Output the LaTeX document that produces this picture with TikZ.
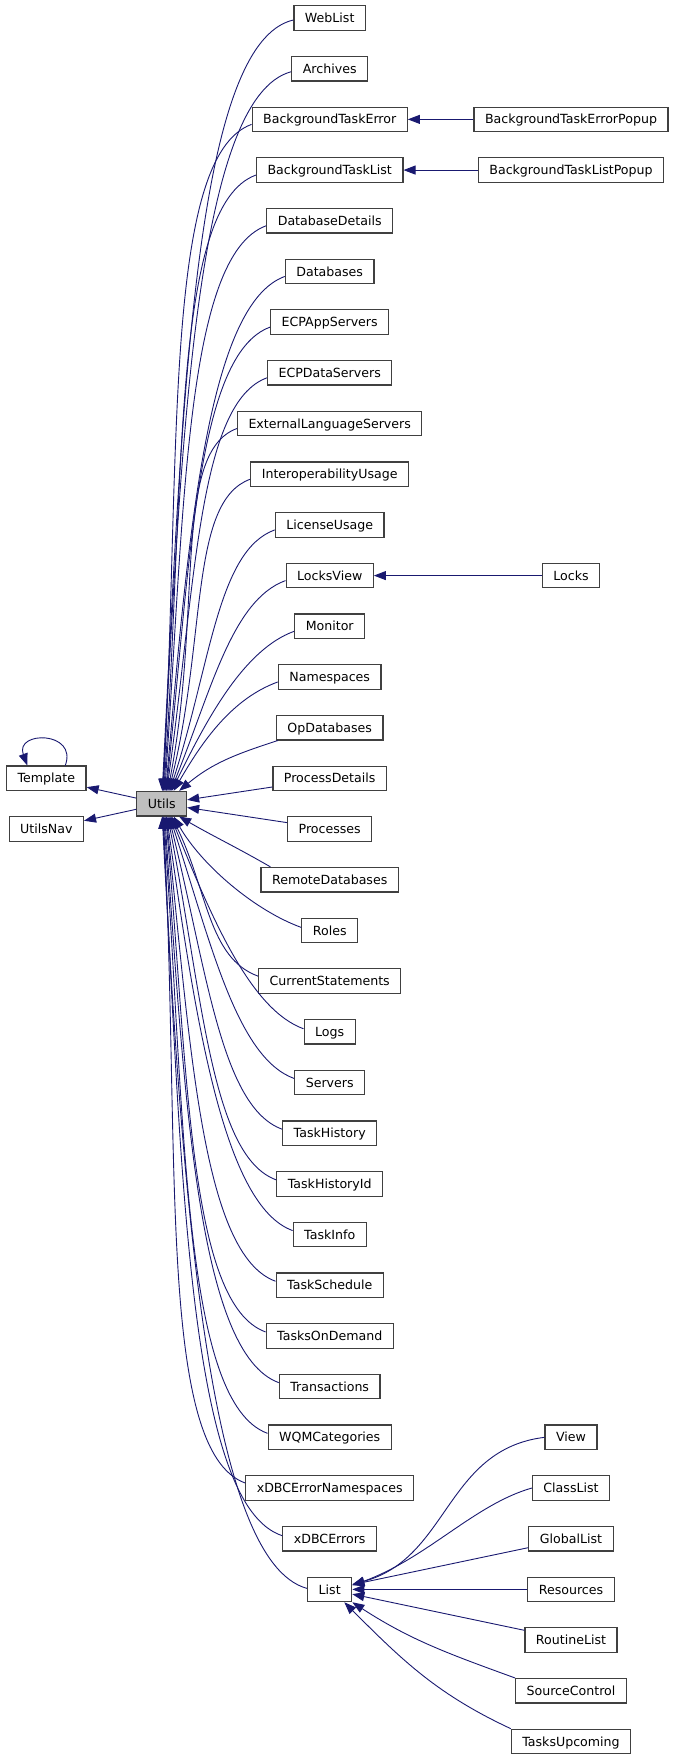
\documentclass[tikz,border=0pt]{standalone}
\usepackage{fontspec}
\setmainfont{DejaVu Sans}
\usetikzlibrary{arrows.meta}
\definecolor{edgeblue}{HTML}{191970}
\definecolor{boxline}{HTML}{404040}

\begin{document}
\begin{tikzpicture}[->,>={Triangle[length=12pt,width=9pt]},x=1pt,y=1pt,node distance=50.69pt,
  class node/.style={rectangle,draw=boxline,line width=1.2pt,fill=white,minimum height=24.5pt,
    inner xsep=11pt,inner ysep=0pt,text height=9.2pt,text depth=0pt,font=\fontsize{12.6}{14}\selectfont},
  every edge/.style={draw=edgeblue,line width=0.9pt}]
  \useasboundingbox (0,0) rectangle (676,-1760);
  % bases
  \node[class node] (Template) at (46.3,-778.3) {Template};
  \node[class node] (UtilsNav) at (46.3,-829) {UtilsNav};
  \node[class node, fill=gray!50] (Utils) at (161.7,-803.7) {Utils};
  % subclasses of Utils
  \node[class node] (WebList) at (329.7,-18) {WebList};
  \node[class node] (Archives) [below of=WebList] {Archives};
  \node[class node] (BackgroundTaskError) [below of=Archives] {BackgroundTaskError};
  \node[class node] (BackgroundTaskList) [below of=BackgroundTaskError] {BackgroundTaskList};
  \node[class node] (DatabaseDetails) [below of=BackgroundTaskList] {DatabaseDetails};
  \node[class node] (Databases) [below of=DatabaseDetails] {Databases};
  \node[class node] (ECPAppServers) [below of=Databases] {ECPAppServers};
  \node[class node] (ECPDataServers) [below of=ECPAppServers] {ECPDataServers};
  \node[class node] (ExternalLanguageServers) [below of=ECPDataServers] {ExternalLanguageServers};
  \node[class node] (InteroperabilityUsage) [below of=ExternalLanguageServers] {InteroperabilityUsage};
  \node[class node] (LicenseUsage) [below of=InteroperabilityUsage] {LicenseUsage};
  \node[class node] (LocksView) [below of=LicenseUsage] {LocksView};
  \node[class node] (Monitor) [below of=LocksView] {Monitor};
  \node[class node] (Namespaces) [below of=Monitor] {Namespaces};
  \node[class node] (OpDatabases) [below of=Namespaces] {OpDatabases};
  \node[class node] (ProcessDetails) [below of=OpDatabases] {ProcessDetails};
  \node[class node] (Processes) [below of=ProcessDetails] {Processes};
  \node[class node] (RemoteDatabases) [below of=Processes] {RemoteDatabases};
  \node[class node] (Roles) [below of=RemoteDatabases] {Roles};
  \node[class node] (CurrentStatements) [below of=Roles] {CurrentStatements};
  \node[class node] (Logs) [below of=CurrentStatements] {Logs};
  \node[class node] (Servers) [below of=Logs] {Servers};
  \node[class node] (TaskHistory) [below of=Servers] {TaskHistory};
  \node[class node] (TaskHistoryId) [below of=TaskHistory] {TaskHistoryId};
  \node[class node] (TaskInfo) [below of=TaskHistoryId] {TaskInfo};
  \node[class node] (TaskSchedule) [below of=TaskInfo] {TaskSchedule};
  \node[class node] (TasksOnDemand) [below of=TaskSchedule] {TasksOnDemand};
  \node[class node] (Transactions) [below of=TasksOnDemand] {Transactions};
  \node[class node] (WQMCategories) [below of=Transactions] {WQMCategories};
  \node[class node] (xDBCErrorNamespaces) [below of=WQMCategories] {xDBCErrorNamespaces};
  \node[class node] (xDBCErrors) [below of=xDBCErrorNamespaces] {xDBCErrors};
  \node[class node] (List) [below of=xDBCErrors] {List};
  % third level
  \node[class node] (BackgroundTaskErrorPopup) [node distance=241.3pt, right of=BackgroundTaskError] {BackgroundTaskErrorPopup};
  \node[class node] (BackgroundTaskListPopup) [node distance=241.3pt, right of=BackgroundTaskList] {BackgroundTaskListPopup};
  \node[class node] (Locks) [node distance=241.3pt, right of=LocksView] {Locks};
  \node[class node] (View) [node distance=241.3pt, right of=WQMCategories] {View};
  \node[class node] (ClassList) [below of=View] {ClassList};
  \node[class node] (GlobalList) [below of=ClassList] {GlobalList};
  \node[class node] (Resources) [below of=GlobalList] {Resources};
  \node[class node] (RoutineList) [below of=Resources] {RoutineList};
  \node[class node] (SourceControl) [below of=RoutineList] {SourceControl};
  \node[class node] (TasksUpcoming) [below of=SourceControl] {TasksUpcoming};

  \path
    (Utils) edge (Template)
    (Utils) edge (UtilsNav)
    ([xshift=19pt]Template.north) edge[out=70,in=110,looseness=2.5] ([xshift=-19pt]Template.north)
    % upper half
    ([yshift=-2pt]WebList.west) edge[out=193,in=87,out distance=102pt,in distance=387pt] ([xshift=0.5pt]Utils.north)
    ([yshift=-3pt]Archives.west) edge[out=195,in=87,out distance=98pt,in distance=361pt] ([xshift=1pt]Utils.north)
    ([yshift=-5pt]BackgroundTaskError.west) edge[out=200,in=87,out distance=94pt,in distance=336pt] ([xshift=1.5pt]Utils.north)
    ([yshift=-5pt]BackgroundTaskList.west) edge[out=200,in=86,out distance=90pt,in distance=310pt] ([xshift=2pt]Utils.north)
    ([yshift=-5pt]DatabaseDetails.west) edge[out=200,in=86,out distance=86pt,in distance=285pt] ([xshift=3pt]Utils.north)
    ([yshift=-5pt]Databases.west) edge[out=200,in=85,out distance=82pt,in distance=260pt] ([xshift=4pt]Utils.north)
    ([yshift=-5pt]ECPAppServers.west) edge[out=200,in=84,out distance=78pt,in distance=234pt] ([xshift=4.5pt]Utils.north)
    ([yshift=-5pt]ECPDataServers.west) edge[out=200,in=82,out distance=73pt,in distance=209pt] ([xshift=5pt]Utils.north)
    ([yshift=-5pt]ExternalLanguageServers.west) edge[out=200,in=79,out distance=69pt,in distance=184pt] ([xshift=6pt]Utils.north)
    ([yshift=-5pt]InteroperabilityUsage.west) edge[out=200,in=76,out distance=65pt,in distance=158pt] ([xshift=7pt]Utils.north)
    ([yshift=-5pt]LicenseUsage.west) edge[out=200,in=72,out distance=61pt,in distance=133pt] ([xshift=8pt]Utils.north)
    ([yshift=-5pt]LocksView.west) edge[out=200,in=68,out distance=57pt,in distance=108pt] ([xshift=9pt]Utils.north)
    ([yshift=-5pt]Monitor.west) edge[out=200,in=64,out distance=53pt,in distance=82pt] ([xshift=10pt]Utils.north)
    ([yshift=-5pt]Namespaces.west) edge[out=200,in=60,out distance=49pt,in distance=57pt] ([xshift=12pt]Utils.north)
    ([xshift=2pt]OpDatabases.south west) edge[out=198,in=40] ([xshift=-8pt]Utils.north east)
    (ProcessDetails) edge (Utils)
    (Processes) edge (Utils)
    ([xshift=10pt]RemoteDatabases.north west) edge[out=150,in=-30] ([xshift=-8pt]Utils.south east)
    % lower half
    ([yshift=3pt]Roles.west) edge[out=160,in=-60,out distance=49pt,in distance=57pt] ([xshift=12pt]Utils.south)
    ([yshift=5pt]CurrentStatements.west) edge[out=160,in=-64,out distance=53pt,in distance=82pt] ([xshift=10pt]Utils.south)
    ([yshift=3pt]Logs.west) edge[out=160,in=-68,out distance=57pt,in distance=108pt] ([xshift=9pt]Utils.south)
    ([yshift=4pt]Servers.west) edge[out=160,in=-72,out distance=61pt,in distance=133pt] ([xshift=8pt]Utils.south)
    ([yshift=4pt]TaskHistory.west) edge[out=160,in=-76,out distance=65pt,in distance=158pt] ([xshift=7pt]Utils.south)
    ([yshift=4pt]TaskHistoryId.west) edge[out=160,in=-79,out distance=69pt,in distance=184pt] ([xshift=6pt]Utils.south)
    ([yshift=4pt]TaskInfo.west) edge[out=160,in=-82,out distance=73pt,in distance=209pt] ([xshift=5pt]Utils.south)
    ([yshift=4pt]TaskSchedule.west) edge[out=160,in=-84,out distance=78pt,in distance=234pt] ([xshift=4.5pt]Utils.south)
    ([yshift=4pt]TasksOnDemand.west) edge[out=160,in=-85,out distance=82pt,in distance=260pt] ([xshift=4pt]Utils.south)
    ([yshift=4pt]Transactions.west) edge[out=160,in=-86,out distance=86pt,in distance=285pt] ([xshift=3pt]Utils.south)
    ([yshift=4pt]WQMCategories.west) edge[out=160,in=-86,out distance=90pt,in distance=310pt] ([xshift=2pt]Utils.south)
    ([yshift=5pt]xDBCErrorNamespaces.west) edge[out=160,in=-87,out distance=94pt,in distance=336pt] ([xshift=1.5pt]Utils.south)
    ([yshift=3pt]xDBCErrors.west) edge[out=162,in=-87,out distance=98pt,in distance=361pt] ([xshift=1pt]Utils.south)
    ([yshift=1pt]List.west) edge[out=165,in=-87,out distance=102pt,in distance=387pt] ([xshift=0.5pt]Utils.south)
    % third level
    (BackgroundTaskErrorPopup) edge (BackgroundTaskError)
    (BackgroundTaskListPopup) edge (BackgroundTaskList)
    (Locks) edge (LocksView)
    (View.west) edge[out=187,in=15,out distance=100pt,in distance=100pt] ([yshift=5pt]List.east)
    (ClassList.west) edge[out=196,in=20,out distance=60pt,in distance=80pt] ([yshift=4pt]List.east)
    (GlobalList) edge (List)
    (Resources) edge (List)
    (RoutineList) edge (List)
    (SourceControl.north west) edge[out=160,in=-33] (List.south east)
    (TasksUpcoming.north west) edge[out=155,in=-45] ([xshift=-8pt]List.south east);
\end{tikzpicture}
\end{document}
